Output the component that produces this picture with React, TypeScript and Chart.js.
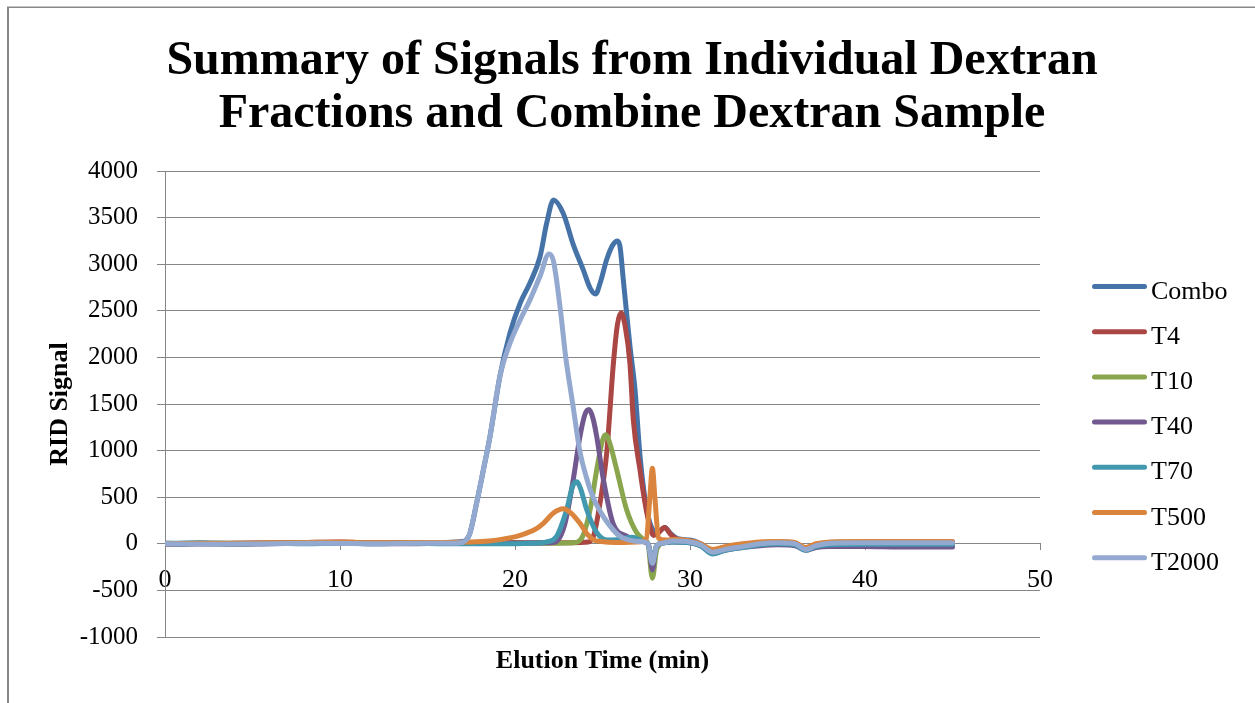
import React, { useEffect, useRef } from 'react';
import { Chart, registerables } from 'chart.js';

Chart.register(...registerables);

// ---------- data ----------
const seriesNames = ['Combo', 'T4', 'T10', 'T40', 'T70', 'T500', 'T2000'];
const seriesColors = ['#4572A7', '#AA4643', '#89A54E', '#71588F', '#4198AF', '#DB843D', '#93A9CF'];
const titleLines = ['Summary of Signals from Individual Dextran', 'Fractions and Combine Dextran Sample'];
const xAxisTitle = 'Elution Time (min)';
const yAxisTitle = 'RID Signal';
const xRange = [0, 50, 10];
const yRange = [-1000, 4000, 500];

// [time (min), signal]
const combo = [
  [0, 0], [1, -5], [2, 5], [4, 0], [6, 5], [8, 10], [10, 15], [12, 5], [14, 10], [16, 15], [17, 25],
  [17.4, 100], [17.81, 440], [18.2, 800], [18.57, 1150], [19.14, 1800], [19.71, 2260], [20.29, 2580],
  [20.86, 2800], [21.43, 3080], [21.81, 3440], [22.2, 3690], [22.76, 3545], [23.33, 3210], [23.9, 2940],
  [24.3, 2740], [24.6, 2680], [24.9, 2820], [25.24, 3050], [25.6, 3210], [25.85, 3250], [26.0, 3190],
  [26.19, 2830], [26.38, 2470], [26.57, 2120], [26.86, 1650], [27.14, 950], [27.43, 480], [27.7, 230],
  [27.95, 140], [28.2, 130], [28.55, 175], [28.9, 110], [29.3, 55], [30, 40], [30.6, 0], [31.3, -80],
  [32, -50], [33, -20], [34, 10], [35, 20], [36, 5], [36.6, -50], [37.2, -10], [38, 15], [40, 20], [42, 20], [45, 20],
];
const t4 = [
  [0, 5], [2, 0], [4, 5], [6, 10], [8, 15], [10, 20], [12, 10], [14, 10], [16, 15], [18, 15], [20, 15], [22, 10],
  [24.2, 20], [24.48, 80], [24.86, 440], [25.24, 975], [25.62, 1930], [25.85, 2350], [26.06, 2480], [26.3, 2330],
  [26.57, 1930], [26.76, 1330], [27.14, 795], [27.43, 436], [27.71, 186], [27.92, 90], [28.2, 120], [28.55, 175],
  [28.9, 100], [29.3, 45], [30, 30], [30.6, 0], [31.3, -80], [32, -50], [33, -20], [34, 5], [35, 15], [36, 5],
  [36.6, -50], [37.2, -10], [38, 10], [40, 15], [42, 15], [45, 15],
];
const t10 = [
  [0, 0], [2, 5], [4, 0], [6, 5], [8, 5], [10, 10], [12, 5], [14, 5], [16, 10], [18, 10], [20, 5], [22, 5],
  [23.3, 10], [23.81, 60], [24.29, 365], [24.67, 795], [25.0, 1110], [25.18, 1170], [25.4, 1090], [25.81, 795],
  [26.38, 365], [26.95, 120], [27.4, 40], [27.6, 0], [27.85, -370], [28.1, -60], [28.5, 10], [29, 25], [30, 20],
  [30.6, -10], [31.3, -90], [32, -60], [33, -30], [34, 0], [35, 10], [36, 0], [36.6, -60], [37.2, -20], [38, 0],
  [40, 5], [42, 5], [45, 5],
];
const t40 = [
  [0, -5], [2, 0], [4, -5], [6, 0], [8, 5], [10, 5], [12, 0], [14, 0], [16, 5], [18, 5], [20, 5], [22, 10],
  [22.4, 30], [22.86, 220], [23.33, 690], [23.71, 1150], [24.0, 1390], [24.23, 1440], [24.45, 1350], [24.67, 1150],
  [25.05, 690], [25.6, 220], [26.4, 80], [27, 40], [27.5, 10], [27.65, -20], [27.85, -280], [28.05, -40], [28.5, 10],
  [29, 20], [30, 10], [30.6, -20], [31.3, -100], [32, -70], [33, -40], [34, -20], [35, -10], [36, -20], [36.6, -70],
  [37.2, -40], [38, -30], [40, -30], [42, -35], [45, -35],
];
const t70 = [
  [0, 5], [2, 10], [4, 5], [6, 5], [8, 0], [10, 5], [12, 0], [14, 5], [16, 0], [18, 0], [20, 0], [21, 5],
  [21.8, 20], [22.38, 80], [22.95, 365], [23.3, 620], [23.52, 665], [23.75, 590], [24.1, 365], [24.67, 120],
  [25.3, 40], [26, 50], [26.7, 70], [27.3, 30], [27.6, 0], [27.85, -180], [28.1, -20], [28.5, 10], [29, 20],
  [30, 10], [30.6, -20], [31.3, -110], [32, -70], [33, -40], [34, -10], [35, 0], [36, -10], [36.6, -70],
  [37.2, -30], [38, -10], [40, -5], [42, -5], [45, -5],
];
const t500 = [
  [0, 0], [2, 5], [4, 5], [6, 10], [8, 15], [10, 20], [12, 10], [14, 15], [16, 15], [17.5, 20], [18.5, 30],
  [19.14, 45], [20.1, 80], [20.67, 115], [21.2, 160], [21.62, 220], [22.2, 330], [22.76, 375], [23.2, 330],
  [23.71, 220], [24.1, 110], [24.48, 45], [25.2, 20], [26, 15], [27, 20], [27.5, 50], [27.7, 480], [27.85, 810],
  [28.0, 480], [28.2, 60], [28.6, 40], [29.2, 50], [30, 30], [30.6, 0], [31.3, -60], [32, -30], [33, 0], [34, 20],
  [35, 25], [36, 15], [36.6, -40], [37.2, 0], [38, 20], [40, 25], [42, 25], [45, 25],
];
const t2000 = [
  [0, 0], [3, -5], [6, 0], [9, 5], [12, 0], [15, 5], [16.5, 5], [17, 15], [17.4, 100], [17.81, 440], [18.2, 800],
  [18.57, 1150], [19.14, 1800], [19.71, 2150], [20.29, 2400], [20.86, 2620], [21.43, 2870], [21.94, 3110],
  [22.2, 3030], [22.6, 2500], [22.9, 2000], [23.3, 1500], [23.7, 1000], [24.1, 700], [24.46, 500], [25.2, 250],
  [26, 80], [26.8, 30], [27.4, 20], [27.6, 0], [27.85, -210], [28.1, -20], [28.5, 10], [29, 30], [30, 20], [30.6, -10],
  [31.3, -90], [32, -60], [33, -30], [34, 0], [35, 10], [36, 0], [36.6, -60], [37.2, -20], [38, 5], [40, 10],
  [42, 10], [45, 10],
];
const seriesData = [combo, t4, t10, t40, t70, t500, t2000];

const FONT = '"Liberation Serif", "Times New Roman", serif';

const decorPlugin = {
  id: 'decor',
  beforeDraw(chart: any) {
    const ctx = chart.ctx;
    ctx.save();
    ctx.fillStyle = '#ffffff';
    ctx.fillRect(0, 0, chart.width, chart.height);
    ctx.fillStyle = '#888888';
    ctx.fillRect(7, 7, 2, chart.height - 7);
    ctx.fillRect(7, 6.5, chart.width - 7, 1.5);
    ctx.restore();
  },
  afterDraw(chart: any) {
    const ctx = chart.ctx;
    const area = chart.chartArea;
    ctx.save();
    ctx.fillStyle = '#000000';
    // title
    ctx.font = `bold 48px ${FONT}`;
    ctx.textAlign = 'center';
    ctx.textBaseline = 'alphabetic';
    ctx.fillText(titleLines[0], 632, 74);
    ctx.fillText(titleLines[1], 632, 127);
    // x axis title
    ctx.font = `bold 26px ${FONT}`;
    ctx.fillText(xAxisTitle, (area.left + area.right) / 2, 668);
    // y axis title
    ctx.save();
    ctx.translate(67, (area.top + area.bottom) / 2);
    ctx.rotate(-Math.PI / 2);
    ctx.fillText(yAxisTitle, 0, 0);
    ctx.restore();
    // legend
    ctx.font = `26px ${FONT}`;
    ctx.textAlign = 'left';
    chart.data.datasets.forEach((ds: any, i: number) => {
      const y = 286.5 + i * 45.2;
      ctx.strokeStyle = ds.borderColor;
      ctx.lineWidth = 5;
      ctx.lineCap = 'round';
      ctx.beginPath();
      ctx.moveTo(1094.5, y);
      ctx.lineTo(1144.5, y);
      ctx.stroke();
      ctx.fillStyle = '#000000';
      ctx.fillText(ds.label, 1151, y + 12);
    });
    ctx.restore();
  },
};

export default function App() {
  const ref = useRef<HTMLCanvasElement>(null);
  useEffect(() => {
    const canvas = ref.current!;
    const chart = new Chart(canvas, {
      type: 'line',
      data: {
        datasets: seriesNames.map((name, i) => ({
          label: name,
          data: seriesData[i].map(([x, y]) => ({ x, y })),
          borderColor: seriesColors[i],
          backgroundColor: seriesColors[i],
          borderWidth: 5,
          borderCapStyle: 'round',
          borderJoinStyle: 'round',
          pointRadius: 0,
          cubicInterpolationMode: 'monotone',
          fill: false,
          order: seriesNames.length - i,
        })),
      },
      options: {
        animation: false,
        responsive: false,
        devicePixelRatio: 1,
        layout: { padding: { left: 0, right: 215, top: 171, bottom: 66 } },
        plugins: {
          legend: { display: false },
          title: { display: false },
          tooltip: { enabled: false },
        },
        scales: {
          x: {
            type: 'linear',
            min: xRange[0],
            max: xRange[1],
            position: { y: 0 },
            border: { color: '#868686', width: 1 },
            grid: { drawOnChartArea: false, drawTicks: true, tickLength: 6, color: '#868686' },
            ticks: {
              stepSize: xRange[2],
              padding: 15,
              color: '#000',
              maxRotation: 0,
              autoSkip: false,
              font: { size: 26, family: FONT },
              callback: (v: any) => String(v),
            },
          },
          y: {
            type: 'linear',
            min: yRange[0],
            max: yRange[1],
            border: { color: '#868686', width: 1 },
            grid: { color: '#868686', tickLength: 8, lineWidth: 1 },
            ticks: {
              stepSize: yRange[2],
              padding: 19,
              color: '#000',
              font: { size: 25, family: FONT },
              callback: (v: any) => String(v),
            },
            afterFit(scale: any) {
              scale.width = 165;
            },
          },
        },
      } as any,
      plugins: [decorPlugin],
    });
    return () => chart.destroy();
  }, []);
  return (
    <div style={{ position: 'absolute', left: 0, top: 0, width: 1255, height: 703, overflow: 'hidden', background: '#fff' }}>
      <canvas ref={ref} width={1255} height={703} style={{ display: 'block', width: 1255, height: 703 }} />
    </div>
  );
}
